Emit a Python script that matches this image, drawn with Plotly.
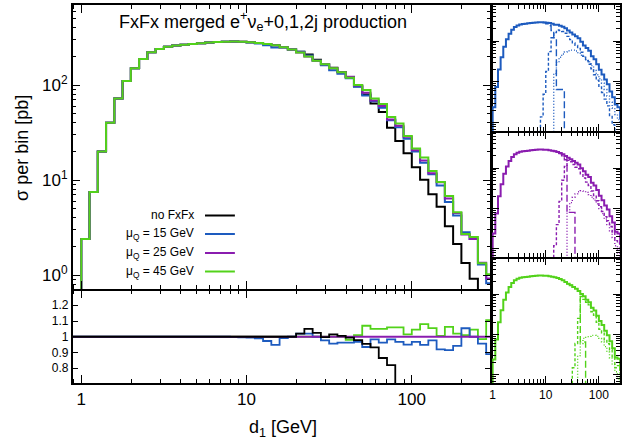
import numpy as np
import plotly.graph_objects as go

W, H = 623, 447

# d1 bins: 20 per decade from 1 GeV
edges = 10 ** (np.arange(51) * 0.05)

# sigma per bin [pb] for mu_Q = 25 GeV (the reference of the ratio panel)
xsec_25 = [2.4, 7.5, 20, 40, 72, 110, 150, 188, 221, 239,
           253, 260, 265, 270, 275, 280, 283, 286, 287, 285,
           282, 277, 270, 262, 250, 236, 220, 200, 180, 165,
           150, 136, 122, 99, 83, 68.5, 60, 43.4, 37.2, 28.6,
           20.6, 16.0, 11.8, 9.5, 6.4, 4.5, 2.67, 2.4, 1.35, 0.92]

# ratios to mu_Q = 25 GeV, per bin
ratio_none = [1, 1, 1, 1, 1, 1, 1, 1, 1, 1,
              1, 1, 1, 1, 1, 1, 1, 1, 1, 1,
              1, 1, 1, 1, 1, 1, 1.02, 1.05, 1.025, 0.997,
              1.015, 1.005, 0.995, 0.978, 0.955, 0.932, 0.865, 0.82, 0.69, 0.67,
              0.66, 0.63, 0.6, 0.55, 0.51, 0.47, 0.5, 0.38, 0.2, 0.1]
ratio_15 = [1, 1, 1, 1, 1, 1, 1, 1, 1, 1,
            1, 1, 1, 1, 1, 1, 1, 1, 0.998, 0.996,
            0.994, 0.99, 0.973, 0.948, 0.992, 1.0, 1.02, 1.02, 1.0, 0.977,
            0.956, 0.963, 0.963, 0.967, 0.935, 0.983, 0.963, 0.983, 0.967, 0.95,
            0.967, 0.948, 0.977, 0.92, 0.915, 0.942, 1.054, 1.0, 0.956, 0.89]
ratio_45 = [1, 1, 1, 1, 1, 1, 1, 1, 1, 1,
            1, 1, 1, 1, 1, 1, 1, 1, 1, 1,
            1, 1, 1, 1, 1, 1, 1, 1, 1, 1,
            1, 1, 0.98, 1.01, 1.07, 1.05, 1.05, 1.06, 1.06, 1.015,
            1.045, 1.08, 1.055, 1.006, 1.063, 1.02, 1.01, 1.045, 0.985, 1.105]

# contributions of the 0, 1 and 2 jet samples: (first bin, values)
mu15_0j = (19, [284, 265, 235, 180, 120, 6.5, 6.5, 6.5, 0.3])
mu15_1j = (17, [0.5, 1.4, 5, 18, 55, 120, 160, 185, 180, 170,
                155, 130, 108, 90, 78, 66, 53, 42, 33, 27,
                21, 15, 11, 7.5, 5.5, 3.8, 2.6, 1.5, 0.9, 0.5])
mu15_2j = (22, [0.3, 16, 30, 40, 48, 54, 58, 60, 60, 57,
                52, 45, 40, 35, 31, 25, 19, 15, 12, 9.3,
                6.5, 4.5, 3.2, 2.3, 1.6, 1.2, 0.8])
mu25_0j = (22, [270, 262, 250, 230, 200, 160, 8, 8, 8, 0.3])
mu25_1j = (22, [0.4, 1.2, 4, 15, 50, 110, 155, 143, 123, 105,
                96, 72, 57, 45, 37, 27, 21, 15.6, 11, 8.5,
                6.3, 5, 3.6, 2.5, 1.6, 1.4, 0.8])
mu25_2j = (27, [0.4, 8, 14, 19, 23, 26, 27.5, 27, 25, 22,
                19, 16, 13, 10, 7.5, 5.5, 4, 2.8, 1.9, 1.2,
                0.8, 0.5])
mu45_0j = (27, [200, 180, 165, 150, 136, 117, 6.5, 6.5, 0.3])
mu45_1j = (29, [0.4, 1.5, 6, 25, 87, 74, 63, 54, 36.5, 30,
                20, 13.5, 10.8, 7.4, 5.9, 4.2, 2.8, 1.5, 1.7, 0.8])
mu45_2j = (31, [0.5, 3, 6, 8, 8.5, 9, 9.5, 9.5, 9, 8,
                6.5, 5, 3.7, 2.6, 1.8, 1.2, 0.8, 0.5])

legend_labels = ["no FxFx", "μ<sub>Q</sub> = 15 GeV",
                 "μ<sub>Q</sub> = 25 GeV", "μ<sub>Q</sub> = 45 GeV"]

BLACK = "#000000"
BLUE = "#1d5bbf"
PURPLE = "#8a1caf"
GREEN = "#52d21a"
FONT = "Liberation Sans, Arial, sans-serif"
LW = 1.5  # frame line width; neighbouring panels are pushed apart by this

xsec_none = np.array(xsec_25) * np.array(ratio_none)
xsec_15 = np.array(xsec_25) * np.array(ratio_15)
xsec_45 = np.array(xsec_25) * np.array(ratio_45)


def px(x):
    return x / W


def py(y):
    return 1 - y / H


def hist(vals, lo=0, floor=None):
    x = list(edges[lo:lo + len(vals) + 1])
    y = list(vals) + [vals[-1]]
    if floor is not None:
        x = [x[0]] + x
        y = [floor] + y
    return x, y


fig = go.Figure()


def add(x, y, color, axes, width=2, dash="solid"):
    fig.add_trace(go.Scatter(x=x, y=y, mode="lines", line_shape="hv",
                             line=dict(color=color, width=width, dash=dash),
                             xaxis=axes[0], yaxis=axes[1], showlegend=False,
                             hoverinfo="skip"))


# main panel
for vals, col in [(xsec_none, BLACK), (xsec_15, BLUE), (xsec_25, PURPLE), (xsec_45, GREEN)]:
    x, y = hist(list(vals), floor=1e-3)
    add(x, y, col, ("x", "y"))

# ratio panel
left = edges[0] ** 2 / edges[1]
for r, col in [(ratio_45, GREEN), (ratio_15, BLUE), ([1.0] * 50, PURPLE), (ratio_none, BLACK)]:
    x, y = hist(r)
    add([left] + x, [r[0]] + y, col, ("x2", "y2"), width=1.8)

# side panels
DASH0 = "7px,3px"
DASH1 = "3px,2px"
DASH2 = "1px,2px"
for axes, tot, col, parts in [
        (("x3", "y3"), xsec_15, BLUE, (mu15_0j, mu15_1j, mu15_2j)),
        (("x4", "y4"), xsec_25, PURPLE, (mu25_0j, mu25_1j, mu25_2j)),
        (("x5", "y5"), xsec_45, GREEN, (mu45_0j, mu45_1j, mu45_2j))]:
    for (lo, vals), dash in zip(parts, (DASH0, DASH1, DASH2)):
        x, y = hist(vals, lo)
        add(x, y, col, axes, width=1.4, dash=dash)
    x, y = hist(list(tot), floor=1e-3)
    add(x, y, col, axes, width=2)

minor_log = [m * 10 ** e for e in range(-1, 4) for m in range(2, 10)]


def frame(**kw):
    d = dict(showline=True, linecolor="black", linewidth=LW, mirror="ticks",
             ticks="inside", ticklen=8, tickwidth=1.3, tickcolor="black",
             showgrid=False, zeroline=False, fixedrange=True,
             tickfont=dict(family=FONT, size=17, color="black"))
    d.update(kw)
    return d


def logminor():
    return dict(tickmode="array", tickvals=minor_log, ticks="inside",
                ticklen=4, tickwidth=1, tickcolor="black")


fig.update_layout(
    width=W, height=H, margin=dict(l=0, r=0, t=0, b=0),
    paper_bgcolor="white", plot_bgcolor="white",
    font=dict(family=FONT, color="black"),
    xaxis=frame(type="log", range=[-0.052, 2.477], domain=[px(70), px(490)],
                anchor="y", tickvals=[1, 10, 100], showticklabels=False,
                minor=logminor()),
    yaxis=frame(type="log", range=[-0.147, 2.842], domain=[py(289), py(5)],
                anchor="x", tickvals=[1, 10, 100],
                ticktext=["10<sup>0</sup>", "10<sup>1</sup>", "10<sup>2</sup>"],
                minor=logminor()),
    xaxis2=frame(type="log", range=[-0.052, 2.477], domain=[px(70), px(490)],
                 anchor="y2", tickvals=[1, 10, 100], ticktext=["1", "10", "100"],
                 minor=logminor()),
    yaxis2=frame(range=[0.706, 1.294], domain=[py(383), py(289 + LW)], anchor="x2",
                 tickvals=[0.8, 0.9, 1, 1.1, 1.2],
                 ticktext=["0.8", "0.9", "1", "1.1", "1.2"], ticklen=6,
                 tickfont=dict(family=FONT, size=12, color="black")),
)

side_rows = [(5, 131), (131 + LW, 257), (257 + LW, 383)]
for i, (top, bot) in enumerate(side_rows):
    n = i + 3
    last = i == 2
    fig.update_layout({
        f"xaxis{n}": frame(type="log", range=[-0.01, 2.398],
                           domain=[px(490 + LW), px(620)], anchor=f"y{n}",
                           tickvals=[1, 10, 100], ticktext=["1", "10", "100"],
                           showticklabels=last, ticklen=7,
                           tickfont=dict(family=FONT, size=12, color="black"),
                           minor=logminor()),
        f"yaxis{n}": frame(type="log", range=[-0.2, 2.88],
                           domain=[py(bot), py(top)], anchor=f"x{n}",
                           tickvals=[1, 10, 100], showticklabels=False,
                           ticklen=7, minor=logminor()),
    })

ann = [
    dict(text="FxFx merged e<sup>+</sup>ν<sub>e</sub>+0,1,2j production",
         x=px(261), y=py(21), size=18),
    dict(text="σ per bin [pb]", x=px(19), y=py(148), size=18, textangle=-90),
    dict(text="d<sub>1</sub> [GeV]", x=px(281), y=py(428), size=18),
]
for a in ann:
    fig.add_annotation(text=a["text"], x=a["x"], y=a["y"], xref="paper", yref="paper",
                       showarrow=False, xanchor="center", yanchor="middle",
                       textangle=a.get("textangle", 0),
                       font=dict(family=FONT, size=a["size"], color="black"))

leg_y = [215.5, 234, 253, 271.5]
for lab, yy, col in zip(legend_labels, leg_y, [BLACK, BLUE, PURPLE, GREEN]):
    fig.add_annotation(text=lab, x=px(194), y=py(yy), xref="paper", yref="paper",
                       showarrow=False, xanchor="right", yanchor="middle",
                       font=dict(family=FONT, size=12, color="black"))
    fig.add_shape(type="line", xref="paper", yref="paper",
                  x0=px(203), x1=px(233), y0=py(yy), y1=py(yy),
                  line=dict(color=col, width=2))

fig.write_html("out.html", config={"displayModeBar": False},
               post_script="document.body.style.margin='0';")
